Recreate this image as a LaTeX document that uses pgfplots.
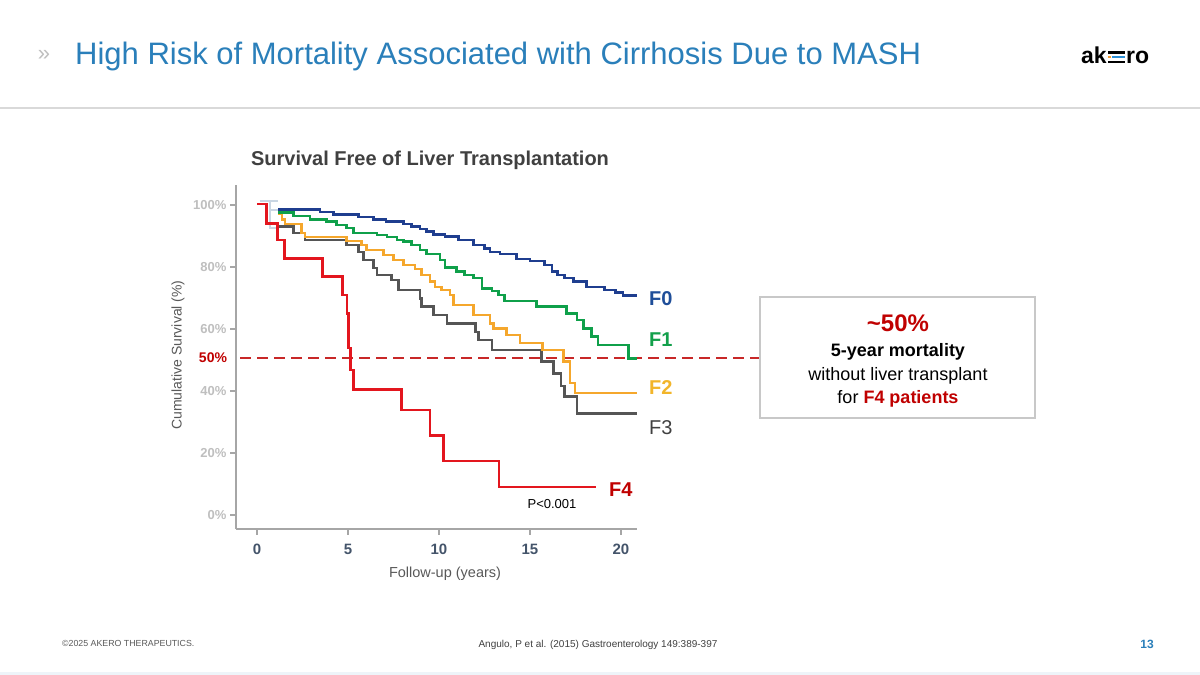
\documentclass[border=0pt]{standalone}
\usepackage{pgfplots}
\pgfplotsset{compat=1.18}
\usepackage{fontspec}
\setmainfont{Liberation Sans}
\definecolor{titleblue}{HTML}{2A7FBA}
\definecolor{cf0}{HTML}{1F3E8F}
\definecolor{cf1}{HTML}{0FA04A}
\definecolor{cf2}{HTML}{F5A72C}
\definecolor{cf3}{HTML}{555555}
\definecolor{cf4}{HTML}{E3161E}
\definecolor{lf0}{HTML}{1F4E99}
\definecolor{lf1}{HTML}{13A04B}
\definecolor{lf2}{HTML}{F2B52A}
\definecolor{lf3}{HTML}{404040}
\definecolor{darkred}{HTML}{C00000}
\definecolor{dashred}{HTML}{C82828}
\definecolor{axgray}{HTML}{A6A6A6}
\definecolor{ylab}{HTML}{BFBFBF}
\definecolor{xlab}{HTML}{44546A}
\definecolor{pale}{HTML}{C9D6E3}
\definecolor{txtgray}{HTML}{595959}
\definecolor{boxgray}{HTML}{C8C8C8}
\definecolor{sepgray}{HTML}{D9D9D9}
\definecolor{logoblue}{HTML}{2B8FD6}
\definecolor{logoorange}{HTML}{F39C34}
\definecolor{bottomline}{HTML}{EEF4F9}
\newcommand\fs[1]{\fontsize{#1}{#1}\selectfont}

\begin{document}
\begin{tikzpicture}[x=1pt,y=1pt]
\useasboundingbox (0,0) rectangle (1200,675);
\fill[white] (0,0) rectangle (1200,675);
% header
\node[anchor=base west, text=titleblue, font=\fs{31}, inner sep=0] at (75,610) {High Risk of Mortality Associated with Cirrhosis Due to MASH};
\node[text=ylab, font=\fs{22}, inner sep=0] at (44,619.5) {»};
% logo
\node[anchor=base west, font=\fs{23}\bfseries, inner sep=0] at (1081,611.7) {ak};
\fill[black] (1108,621.3) rectangle (1125,623.8);
\fill[logoblue] (1111.5,616.5) rectangle (1125,619);
\fill[logoorange] (1108,616.5) rectangle (1110.7,619);
\fill[black] (1108,611.7) rectangle (1125,614.2);
\node[anchor=base west, font=\fs{23}\bfseries, inner sep=0] at (1126,611.7) {ro};
\draw[sepgray, line width=1.5pt] (0,567) -- (1200,567);

% chart title and labels
\node[anchor=base, font=\fs{20}\bfseries, text=lf3, inner sep=0] at (430,509.3) {Survival Free of Liver Transplantation};
\node[rotate=90, font=\fs{14}, text=txtgray, inner sep=0] at (178,320) {Cumulative Survival (\%)};
\node[font=\fs{14.5}, text=txtgray, inner sep=0] at (445,101) {Follow-up (years)};

\begin{axis}[
  at={(236pt,146pt)}, anchor=south west,
  scale only axis, width=401pt, height=344pt,
  xmin=-1.154, xmax=20.88, ymin=-4.52, ymax=106.45,
  axis lines*=left,
  axis line style={draw=axgray, line width=2pt},
  xtick={0,5,10,15,20}, ytick={0,20,40,60,80,100},
  tick align=outside, major tick length=6pt,
  every tick/.style={draw=axgray, line width=1.2pt},
  x tick label style={font=\fs{15}\bfseries, text=xlab, yshift=-5pt, text height=11pt, text depth=0pt},
  y tick label style={font=\fs{13}\bfseries, text=ylab},
  yticklabel={\pgfmathprintnumber{\tick}\%},
  /pgf/number format/assume math mode=true,
  clip=false,
  every axis plot/.append style={line width=2.5pt, mark=none},
]
% pale starting segments
\addplot[pale, sharp plot, line width=2pt] coordinates {(0.15,101.3) (1.17,101.3)};
\addplot[pale, sharp plot, line width=2pt] coordinates {(0.71,101.3) (0.71,92.6) (1.17,92.6)};
\addplot[pale, sharp plot, line width=2pt] coordinates {(0.71,98.4) (1.17,98.4)};
% dashed 50% line
\addplot[dashred, sharp plot, line width=1.6pt, dash pattern=on 11pt off 6pt] coordinates {(-0.93,50.7) (27.6,50.7)};
% F3
\addplot[cf3, const plot] coordinates {
(1.17,93) (2.0,90.9) (2.64,88.7) (4.93,87.1) (5.57,84.9) (5.84,82.3) (6.4,79.6)
(6.58,77.4) (7.4,75.8) (7.77,72.6) (8.96,69.9) (9.05,67.2) (9.7,64.5) (10.45,61.8)
(12.0,59.1) (12.16,56.5) (12.9,53.2) (15.64,49.5) (16.3,45.7) (16.7,41.6) (16.9,38.2)
(17.57,32.8) (20.9,32.8)};
% F2
\addplot[cf2, const plot] coordinates {
(1.17,97.1) (1.36,95.4) (1.54,93.9) (2.45,90.9) (2.64,89.6) (4.93,88.4) (5.75,87.1)
(6.03,85.5) (6.94,83.9) (7.49,82.3) (8.04,80.6) (8.68,79.3) (9.05,77.4) (9.5,75.3)
(9.78,73.6) (10.15,72.6) (10.6,71) (10.79,67.7) (11.9,64.5) (12.8,61.8) (13.0,60.2)
(13.7,58.1) (14.45,55.4) (15.7,53.2) (16.83,49.5) (17.2,42.5) (17.47,39.3) (20.9,39.3)};
% F1
\addplot[cf1, const plot] coordinates {
(1.17,97.5) (2.0,96.5) (2.9,95.4) (3.83,94.6) (4.38,93.5) (4.93,92.5) (5.3,90.9)
(6.58,90.3) (7.13,89.6) (7.68,88.7) (8.04,88.2) (8.5,87.1) (8.96,85.5) (9.3,84.2)
(10.05,82.3) (10.33,79.9) (10.97,78.5) (11.4,77.4) (11.9,76.4) (12.35,73.1) (12.9,72.3)
(13.26,71) (13.6,69.1) (15.37,67.2) (17.0,65) (17.57,62.9) (17.93,60.2) (18.39,57.5)
(18.75,54.8) (20.4,50.5) (20.9,50.5)};
% F0
\addplot[cf0, const plot] coordinates {
(1.17,98.6) (3.46,97.8) (4.2,97.0) (5.57,96.2) (6.4,95.4) (7.1,94.6) (8.04,93.8)
(8.5,93) (8.96,92.2) (9.3,91.4) (9.7,90.5) (10.33,89.8) (11.06,88.7) (11.9,87.1)
(12.5,86) (12.8,84.9) (13.35,84.2) (14.27,82.5) (15.0,81.9) (15.8,80.6) (16.2,78.5)
(16.5,77.4) (16.9,76.4) (17.4,75.3) (18.1,73.6) (19.1,72.6) (19.7,71.8) (20.1,70.8)
(20.9,70.8)};
% F4
\addplot[cf4, const plot] coordinates {
(0,100.3) (0.52,94) (1.12,88.7) (1.5,82.8) (3.6,76.9) (4.7,71) (4.95,65) (5.02,53.8)
(5.15,46.8) (5.3,40.5) (7.95,33.9) (9.5,25.6) (10.25,17.4) (13.3,9.1) (18.65,9.1)};
\end{axis}

% series labels
\node[anchor=west, font=\fs{20}\bfseries, text=lf0, inner sep=0] at (649,376) {F0};
\node[anchor=west, font=\fs{20}\bfseries, text=lf1, inner sep=0] at (649,335) {F1};
\node[anchor=west, font=\fs{20}\bfseries, text=lf2, inner sep=0] at (649,287) {F2};
\node[anchor=west, font=\fs{20}, text=lf3, inner sep=0] at (649,247) {F3};
\node[anchor=west, font=\fs{20}\bfseries, text=darkred, inner sep=0] at (609,185) {F4};
\node[font=\fs{13}, inner sep=0] at (552,171) {P<0.001};
\node[font=\fs{14}\bfseries, text=darkred, inner sep=0] at (213,317) {50\%};

% callout box
\fill[white] (760,378) rectangle (1035,257);
\draw[boxgray, line width=1.5pt] (760,378) rectangle (1035,257);
\node[anchor=base, font=\fs{24}\bfseries, text=darkred, inner sep=0] at (898,343.3) {\textasciitilde 50\%};
\node[anchor=base, font=\fs{18}\bfseries, inner sep=0] at (898,318.3) {5-year mortality};
\node[anchor=base, font=\fs{18}, inner sep=0] at (898,294.3) {without liver transplant};
\node[anchor=base, font=\fs{18}, inner sep=0] at (898,271.7) {for \textcolor{darkred}{\bfseries F4 patients}};

% footer
\node[anchor=base west, font=\fs{8.8}, text=txtgray, inner sep=0] at (62,28) {©2025 AKERO THERAPEUTICS.};
\node[anchor=base, font=\fs{10}, text=lf3, inner sep=0] at (598,27.5) {Angulo, P et al. (2015) Gastroenterology 149:389-397};
\node[anchor=base, font=\fs{12}\bfseries, text=titleblue, inner sep=0] at (1147,26.5) {13};
\fill[bottomline] (0,0) rectangle (1200,2.5);
\end{tikzpicture}
\end{document}
